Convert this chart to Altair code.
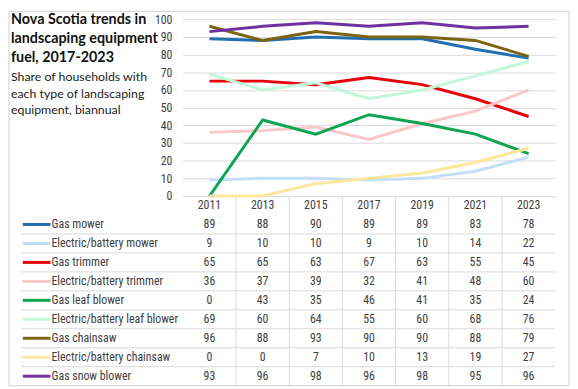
import altair as alt
import pandas as pd

years = ["2011", "2013", "2015", "2017", "2019", "2021", "2023"]
series = [
    "Gas mower",
    "Electric/battery mower",
    "Gas trimmer",
    "Electric/battery trimmer",
    "Gas leaf blower",
    "Electric/battery leaf blower",
    "Gas chainsaw",
    "Electric/battery chainsaw",
    "Gas snow blower",
]
gas_mower = [89, 88, 90, 89, 89, 83, 78]
elec_mower = [9, 10, 10, 9, 10, 14, 22]
gas_trimmer = [65, 65, 63, 67, 63, 55, 45]
elec_trimmer = [36, 37, 39, 32, 41, 48, 60]
gas_leaf = [0, 43, 35, 46, 41, 35, 24]
elec_leaf = [69, 60, 64, 55, 60, 68, 76]
gas_chainsaw = [96, 88, 93, 90, 90, 88, 79]
elec_chainsaw = [0, 0, 7, 10, 13, 19, 27]
gas_snow = [93, 96, 98, 96, 98, 95, 96]
colors = ["#1f6fb2", "#c3defa", "#e8000b", "#fac7cb", "#0ea552",
          "#c2f7da", "#7d6210", "#ffe69c", "#7030a0"]
y_ticks = list(range(0, 101, 10))
title_lines = ["Nova Scotia trends in", "landscaping equipment", "fuel, 2017-2023"]
subtitle_lines = ["Share of households with", "each type of landscaping",
                  "equipment, biannual"]

values = [gas_mower, elec_mower, gas_trimmer, elec_trimmer, gas_leaf,
          elec_leaf, gas_chainsaw, elec_chainsaw, gas_snow]
rows = []
for si, (name, vals) in enumerate(zip(series, values)):
    for y, v in zip(years, vals):
        rows.append({"series": name, "year": y, "value": v, "ord": si})
df = pd.DataFrame(rows)

FONT = "Liberation Sans Narrow, Roboto Condensed, Lato"
TFONT = "Lato"
TXT = "#404040"
GRID = "#d9d9d9"
W, H = 377, 179
TH = 192

color = alt.Color("series:N", scale=alt.Scale(domain=series, range=colors), legend=None)
xs = alt.Scale(type="band", domain=years, paddingInner=0, paddingOuter=0)

lines = alt.Chart(df).mark_line(strokeWidth=3).encode(
    x=alt.X("year:O", scale=xs, axis=None, bandPosition=0.5),
    y=alt.Y("value:Q", scale=alt.Scale(domain=[0, 100]),
            axis=alt.Axis(values=y_ticks, grid=True, gridColor=GRID, domain=False,
                          ticks=False, labelPadding=11, labelFontSize=12,
                          labelFont=FONT, labelColor=TXT, title=None)),
    color=color,
    detail="ord:O",
)

title = alt.Chart(pd.DataFrame({"t": ["\n".join(title_lines)]})).mark_text(
    align="left", baseline="alphabetic", font=TFONT, fontWeight="bold",
    fontSize=14.5, lineHeight=19, color="#111111", lineBreak="\n"
).encode(x=alt.value(-174), y=alt.value(5), text="t:N")

subtitle = alt.Chart(pd.DataFrame({"t": ["\n".join(subtitle_lines)]})).mark_text(
    align="left", baseline="alphabetic", font=TFONT, fontSize=12.5,
    lineHeight=16.5, color="#222222", lineBreak="\n"
).encode(x=alt.value(-174), y=alt.value(63), text="t:N")

frame = alt.Chart(pd.DataFrame({"a": [0]})).mark_rect(
    filled=False, strokeWidth=1
).encode(x=alt.value(-176), x2=alt.value(391), y=alt.value(-8), y2=alt.value(371),
         color=alt.value("#d0d0d0"))

top = alt.layer(frame, lines, title, subtitle).properties(width=W, height=H)

# table
row_dom = ["hdr"] + series
ys = alt.Scale(type="band", domain=row_dom, paddingInner=0, paddingOuter=0)
hdr_df = pd.DataFrame({"year": years, "row": "hdr"})
lab_df = pd.DataFrame({"series": series, "row": series})

header = alt.Chart(hdr_df).mark_text(font=FONT, fontSize=12, color=TXT).encode(
    x=alt.X("year:O", scale=xs, axis=None, bandPosition=0.5),
    y=alt.Y("row:N", scale=ys, axis=None, bandPosition=0.5),
    text="year:N",
)
cells = alt.Chart(df).mark_text(font=FONT, fontSize=12, color=TXT).encode(
    x=alt.X("year:O", scale=xs, axis=None, bandPosition=0.5),
    y=alt.Y("series:N", scale=ys, axis=None, bandPosition=0.5),
    text="value:Q",
)
labels = alt.Chart(lab_df).mark_text(font=FONT, fontSize=12, color=TXT,
                                      align="left").encode(
    x=alt.value(-133),
    y=alt.Y("row:N", scale=ys, axis=None, bandPosition=0.5),
    text="series:N",
)
swatch = alt.Chart(lab_df).mark_rule(strokeWidth=3).encode(
    x=alt.value(-162), x2=alt.value(-134),
    y=alt.Y("row:N", scale=ys, axis=None, bandPosition=0.5),
    color=color,
)
hlines = alt.Chart(pd.DataFrame({"row": series[1:]})).mark_rule(
    color=GRID, strokeWidth=1).encode(
    x=alt.value(-164), x2=alt.value("width"),
    y=alt.Y("row:N", scale=ys, axis=None, bandPosition=0),
)
vlines = alt.Chart(pd.DataFrame({"year": years[1:]})).mark_rule(
    color=GRID, strokeWidth=1).encode(
    x=alt.X("year:O", scale=xs, axis=None, bandPosition=0),
    y=alt.value(0), y2=alt.value("height"),
)
table = alt.layer(hlines, vlines, swatch, labels, header, cells).properties(
    width=W, height=TH)

chart = alt.vconcat(top, table, spacing=0, bounds="flush").properties(
    padding=0).configure_view(strokeWidth=0)

chart.save("out.html", embed_options={"renderer": "svg", "actions": False})
